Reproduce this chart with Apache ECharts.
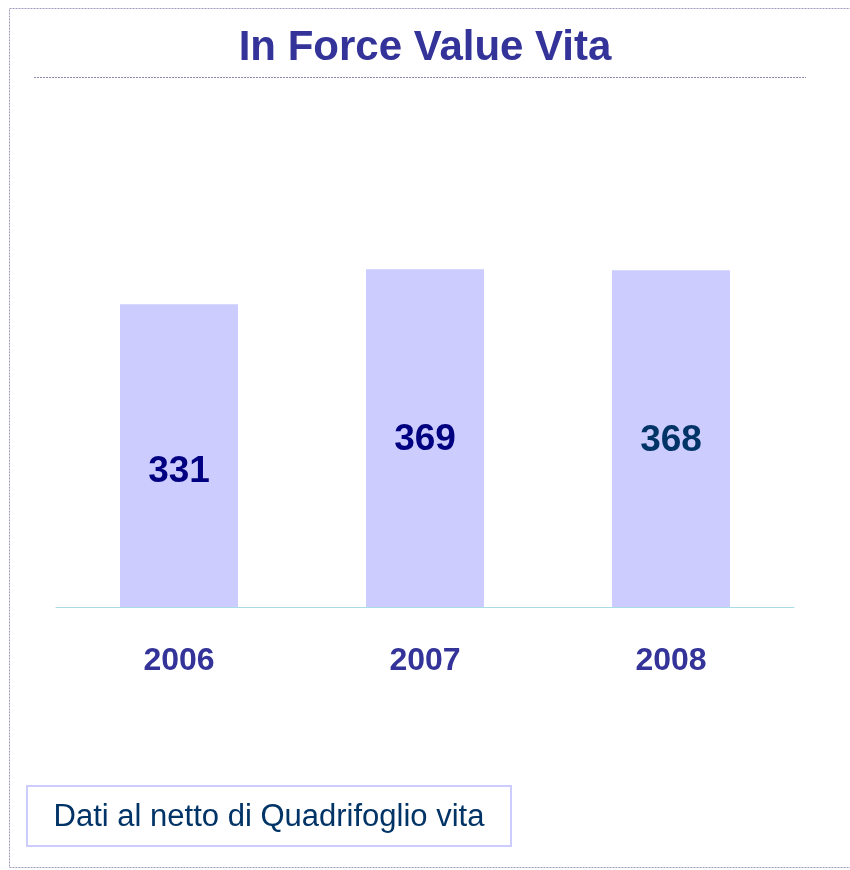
<!DOCTYPE html>
<html>
<head>
<meta charset="utf-8">
<script src="https://cdn.jsdelivr.net/npm/echarts@6/dist/echarts.min.js"></script>
<style>
  html, body { margin: 0; padding: 0; background: #fff; }
  #chart { width: 850px; height: 870px; }
</style>
</head>
<body>
<div id="chart"></div>
<script>
const years  = ['2006', '2007', '2008'];
const values = [331, 369, 368];

const COLORS = {
  title:  '#333399',
  bar:    '#ccccff',
  axis:   '#a8dce6',
  frame:  '#9a9abc',
  note:   '#003366',
};
// label colour and vertical nudge per bar, as in the slide
const labelColors  = ['#000080', '#000080', '#003366'];
const labelOffsets = [16, 2, 2];

const chart = echarts.init(document.getElementById('chart'), null, { renderer: 'canvas' });

chart.setOption({
  backgroundColor: '#fff',
  animation: false,
  title: {
    text: 'In Force Value Vita',
    left: 'center',
    top: 21,
    textStyle: {
      color: COLORS.title,
      fontFamily: 'Liberation Sans, Arial, sans-serif',
      fontSize: 42,
      fontWeight: 'bold',
      lineHeight: 44,
    },
  },
  grid: { left: 56, right: 56, top: 241, bottom: 263 },
  xAxis: {
    type: 'category',
    data: years,
    axisLine: { lineStyle: { color: COLORS.axis, width: 1 } },
    axisTick: { show: false },
    axisLabel: {
      margin: 38,
      color: COLORS.title,
      fontFamily: 'Liberation Sans, Arial, sans-serif',
      fontSize: 32,
      fontWeight: 'bold',
      lineHeight: 32,
    },
  },
  yAxis: {
    type: 'value',
    min: 0,
    max: 400,
    show: false,
    splitLine: { show: false },
  },
  series: [
    {
      type: 'bar',
      barWidth: 118,
      data: values.map((v, i) => ({
        value: v,
        label: { color: labelColors[i], offset: [0, labelOffsets[i]] },
      })),
      itemStyle: { color: COLORS.bar },
      label: {
        show: true,
        position: 'inside',
        fontFamily: 'Liberation Sans, Arial, sans-serif',
        fontSize: 37,
        fontWeight: 'bold',
      },
    },
  ],
  graphic: [
    {
      type: 'rect',
      shape: { x: 9.5, y: 8.5, width: 860, height: 859 },
      style: { fill: null, stroke: COLORS.frame, lineWidth: 1, lineDash: [2, 1] },
      silent: true,
    },
    {
      type: 'line',
      shape: { x1: 34, y1: 77.5, x2: 806, y2: 77.5 },
      style: { stroke: '#8a8aaa', lineWidth: 1, lineDash: [2, 1] },
      silent: true,
    },
    {
      type: 'rect',
      shape: { x: 27, y: 786, width: 484, height: 60 },
      style: { fill: '#fff', stroke: '#ccccff', lineWidth: 2 },
      silent: true,
    },
    {
      type: 'text',
      x: 269,
      y: 817,
      style: {
        text: 'Dati al netto di Quadrifoglio vita',
        fill: COLORS.note,
        font: '31px "Liberation Sans", Arial, sans-serif',
        align: 'center',
        verticalAlign: 'middle',
      },
      silent: true,
    },
  ],
});
</script>
</body>
</html>
